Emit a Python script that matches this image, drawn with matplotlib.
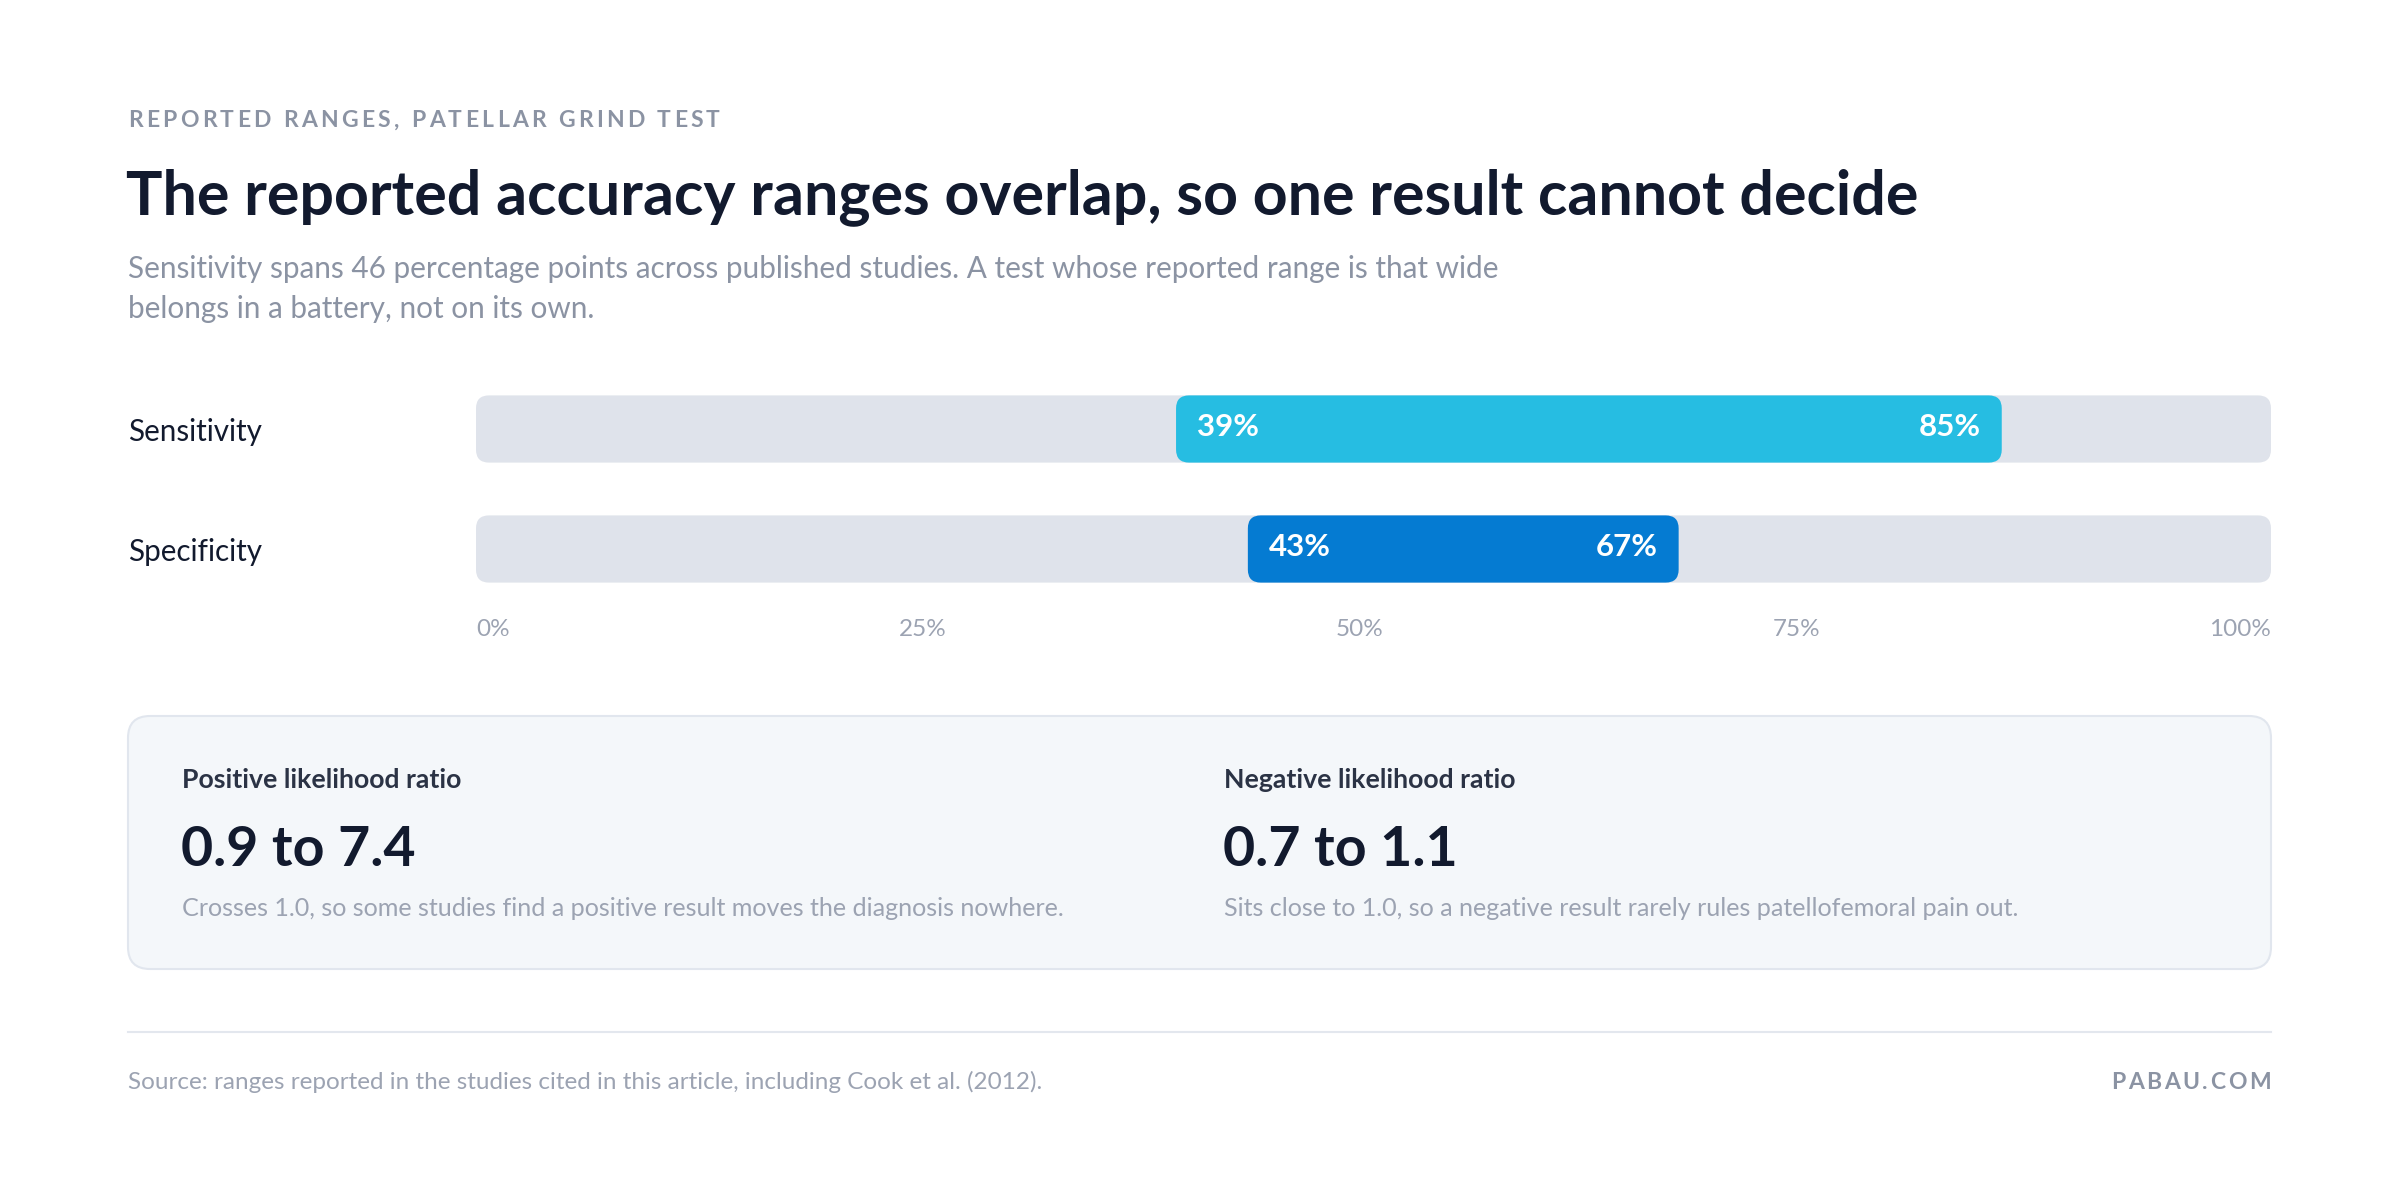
import matplotlib
matplotlib.use("Agg")
import matplotlib.pyplot as plt
import matplotlib.transforms as mtransforms
from matplotlib.patches import FancyBboxPatch
from matplotlib.lines import Line2D

# ---- data ----
metrics = ["Sensitivity", "Specificity"]
range_low = [39, 43]
range_high = [85, 67]
bar_colors = ["#26bde2", "#057bd2"]
axis_ticks = [0, 25, 50, 75, 100]

card_titles = ["Positive likelihood ratio", "Negative likelihood ratio"]
card_values = ["0.9 to 7.4", "0.7 to 1.1"]
card_notes = [
    "Crosses 1.0, so some studies find a positive result moves the diagnosis nowhere.",
    "Sits close to 1.0, so a negative result rarely rules patellofemoral pain out.",
]

overline = "REPORTED RANGES, PATELLAR GRIND TEST"
title = "The reported accuracy ranges overlap, so one result cannot decide"
subtitle_lines = [
    "Sensitivity spans 46 percentage points across published studies. A test whose reported range is that wide",
    "belongs in a battery, not on its own.",
]
source = "Source: ranges reported in the studies cited in this article, including Cook et al. (2012)."
brand = "PABAU.COM"

# ---- colours ----
NAVY = "#121a2e"
GREY = "#8b93a3"
LIGHT = "#9ca3b2"
TRACK = "#dfe3eb"

plt.rcParams["font.family"] = ["Lato", "DejaVu Sans"]

W, H = 2400, 1204
fig = plt.figure(figsize=(W / 100, H / 100), dpi=100)
fig.patch.set_facecolor("white")
renderer = fig.canvas.get_renderer()


def fx(px):
    return px / W


def fy(py):
    return 1 - py / H


def text_width(t, **kw):
    a = fig.text(0, 0, t + "x", **kw)
    b = fig.text(0, 0, "x", **kw)
    w = a.get_window_extent(renderer).width - b.get_window_extent(renderer).width
    a.remove()
    b.remove()
    return w


def spaced(x, y, s, gap, ha="left", **kw):
    # draw text char by char with extra tracking (px)
    total = text_width(s, **kw) + gap * (len(s) - 1)
    start = x if ha == "left" else x - total
    for i, ch in enumerate(s):
        off = text_width(s[:i], **kw) if i else 0.0
        fig.text(fx(start + off + gap * i), fy(y), ch, va="baseline", **kw)


# ---- header ----
spaced(128, 127, overline, 3.3, fontsize=16.5, color=GREY, fontweight="bold")
fig.text(fx(126), fy(214), title, fontsize=43.8, fontweight="bold", color=NAVY, va="baseline")
for k, line in enumerate(subtitle_lines):
    fig.text(fx(128), fy(278 + 40 * k), line, fontsize=21.4, color=GREY, va="baseline")

# ---- range bars ----
ax = fig.add_axes([fx(476), fy(609), 1795 / W, 240 / H])
ax.set_xlim(axis_ticks[0], axis_ticks[-1])
ax.set_ylim(len(metrics) - 0.5, -0.5)
ax.axis("off")

fig.canvas.draw()
px_x = ax.transData.transform((1, 0))[0] - ax.transData.transform((0, 0))[0]
px_y = abs(ax.transData.transform((0, 1))[1] - ax.transData.transform((0, 0))[1])
aspect = px_x / px_y
radius = 13 / px_x
bar_h = 0.56

label_tf = mtransforms.blended_transform_factory(fig.transFigure, ax.transData)
for i, name in enumerate(metrics):
    track = FancyBboxPatch((axis_ticks[0], i - bar_h / 2), axis_ticks[-1] - axis_ticks[0], bar_h,
                           boxstyle=f"round,pad=0,rounding_size={radius}",
                           mutation_aspect=aspect, fc=TRACK, ec="none")
    ax.add_patch(track)
    lo, hi = range_low[i], range_high[i]
    bar = FancyBboxPatch((lo, i - bar_h / 2), hi - lo, bar_h,
                         boxstyle=f"round,pad=0,rounding_size={radius}",
                         mutation_aspect=aspect, fc=bar_colors[i], ec="none")
    ax.add_patch(bar)
    ax.text(lo, i, f"{lo}%", transform=mtransforms.offset_copy(ax.transData, fig, x=21, y=5, units="dots"),
            ha="left", va="center_baseline", color="white", fontsize=22.5, fontweight="bold")
    ax.text(hi, i, f"{hi}%", transform=mtransforms.offset_copy(ax.transData, fig, x=-21, y=5, units="dots"),
            ha="right", va="center_baseline", color="white", fontsize=22.5, fontweight="bold")
    fig.text(fx(128), i, name, transform=mtransforms.offset_copy(label_tf, fig, y=-1, units="dots"),
             ha="left", va="center_baseline", fontsize=21.3, color=NAVY)

# axis labels spread edge to edge with equal gaps between them
tick_kw = dict(fontsize=17.5, color=LIGHT)
tick_labels = [f"{t}%" for t in axis_ticks]
tick_w = [text_width(t, **tick_kw) for t in tick_labels]
axis_px = ax.get_window_extent(renderer).width
gap = (axis_px - sum(tick_w)) / (len(tick_labels) - 1)
tick_tf = mtransforms.blended_transform_factory(ax.transAxes, fig.transFigure)
xpos = 0.0
for lab, w in zip(tick_labels, tick_w):
    ax.text(xpos / axis_px, fy(636), lab, transform=tick_tf, ha="left", va="baseline", **tick_kw)
    xpos += w + gap

# ---- summary card ----
card = FancyBboxPatch((fx(128), fy(969)), (2271 - 128) / W, (969 - 716) / H,
                      boxstyle=f"round,pad=0,rounding_size={22 / W}",
                      mutation_aspect=W / H, transform=fig.transFigure,
                      fc="#f4f7fa", ec="#e1e6ee", lw=1.5)
fig.patches.append(card)

for j, xpx in enumerate([182, 1224]):
    fig.text(fx(xpx), fy(788), card_titles[j], fontsize=19.2, fontweight="bold", color="#2b3345", va="baseline")
    fig.text(fx(xpx - 1), fy(866), card_values[j], fontsize=40, fontweight="bold", color=NAVY, va="baseline")
    fig.text(fx(xpx), fy(916), card_notes[j], fontsize=18.1, color=LIGHT, va="baseline")

# ---- footer ----
fig.lines.append(Line2D([fx(128), fx(2271)], [fy(1032), fy(1032)], transform=fig.transFigure,
                        color="#e3e7ee", lw=1.5))
fig.text(fx(128), fy(1089), source, fontsize=17.5, color=LIGHT, va="baseline")
spaced(2271, 1089, brand, 2.6, ha="right", fontsize=16.5, color=GREY, fontweight="bold")

fig.savefig("out.png", dpi=100, facecolor="white")
